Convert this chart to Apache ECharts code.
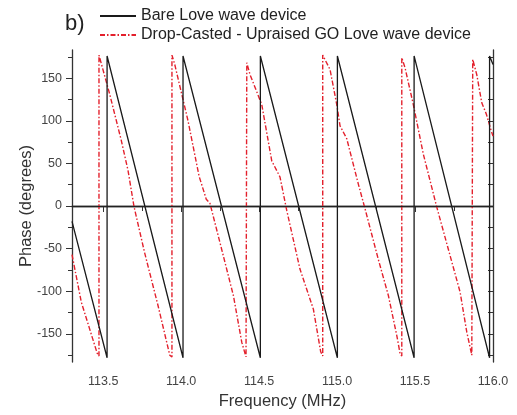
<!DOCTYPE html>
<html>
<head>
<meta charset="utf-8">
<script src="https://cdn.jsdelivr.net/npm/echarts@6/dist/echarts.min.js"></script>
<style>
html,body{margin:0;padding:0;background:#fff;}
#c{width:517px;height:415px;}
</style>
</head>
<body>
<div id="c"></div>
<script>
// Bare Love wave device (black)
const bareFreq  = [113.3, 113.525, 113.525, 114.012, 114.012, 114.508, 114.508, 115.002, 115.002, 115.494, 115.494, 115.978, 115.978, 116.0];
const barePhase = [-18, -178, 176, -178, 176, -178, 176, -178, 176, -178, 176, -178, 176, 166];

// Drop-Casted - Upraised GO Love wave device (red)
const castFreq = [
  113.3, 113.36, 113.462, 113.473,
  113.473, 113.542, 113.616, 113.659, 113.698, 113.766, 113.852, 113.927, 113.941,
  113.941, 113.959, 114.044, 114.115, 114.161, 114.185, 114.249, 114.335, 114.389, 114.416, 114.421,
  114.421, 114.442, 114.517, 114.581, 114.634, 114.677, 114.762, 114.848, 114.895, 114.908,
  114.908, 114.955, 114.998, 115.019, 115.062, 115.136, 115.179, 115.265, 115.329, 115.383, 115.404, 115.415,
  115.415, 115.436, 115.489, 115.553, 115.639, 115.714, 115.789, 115.832, 115.864, 115.870,
  115.870, 115.896, 115.928, 115.957, 115.989, 116.0
];
const castPhase = [
  -57, -113, -173, -176,
  177, 131, 77, 42, -1, -55, -117, -175, -177,
  177, 166, 100, 35, 8, 3, -43, -105, -160, -177, -177,
  168, 154, 119, 53, 34, -5, -74, -121, -171, -176,
  177, 160, 119, 94, 79, 26, -3, -63, -105, -152, -173, -176,
  174, 162, 119, 61, -1, -51, -101, -148, -175, -176,
  172, 154, 121, 108, 88, 82
];

const xLabelValues = [113.5, 114.0, 114.5, 115.0, 115.5, 116.0];
const xMinorValues = [113.75, 114.25, 114.75, 115.25, 115.75];
const yLabelValues = [-150, -100, -50, 0, 50, 100, 150];
const yMinorValues = [-175, -125, -75, -25, 25, 75, 125, 175];

const seriesNames = ['Bare Love wave device', 'Drop-Casted - Upraised GO Love wave device'];

const zip = (a, b) => a.map((v, i) => [v, b[i]]);

const X_MIN = 113.3, X_MAX = 116.0, Y_MIN = -183, Y_MAX = 183;
const axisColor = '#333';
const font = 'Liberation Sans, Arial, sans-serif';

function xAx(pos, ticks, len, inside, withLine, extra) {
  return Object.assign({
    type: 'value', min: X_MIN, max: X_MAX, position: pos,
    axisLine: {show: withLine, lineStyle: {color: axisColor, width: 1.3}},
    axisTick: {show: true, inside: inside, length: len, customValues: ticks, lineStyle: {color: axisColor, width: 1}},
    axisLabel: {show: false},
    splitLine: {show: false}
  }, extra || {});
}
function yAx(pos, ticks, len, inside, withLine, extra) {
  return Object.assign({
    type: 'value', min: Y_MIN, max: Y_MAX, position: pos,
    axisLine: {show: withLine, lineStyle: {color: axisColor, width: 1.3}},
    axisTick: {show: true, inside: inside, length: len, customValues: ticks, lineStyle: {color: axisColor, width: 1}},
    axisLabel: {show: false},
    splitLine: {show: false}
  }, extra || {});
}

const chart = echarts.init(document.getElementById('c'), null, {renderer: 'canvas'});
chart.setOption({
  backgroundColor: '#fff',
  animation: false,
  title: {
    text: 'b)', left: 60, top: 8,
    textStyle: {fontSize: 22, fontWeight: 'normal', color: '#222', fontFamily: font}
  },
  legend: {
    orient: 'vertical', left: 99, top: 8, padding: 0,
    itemWidth: 36, itemHeight: 12, itemGap: 3,
    itemStyle: {color: 'rgba(0,0,0,0)', borderColor: 'rgba(0,0,0,0)', borderWidth: 0},
    textStyle: {fontSize: 16, color: '#222', fontFamily: font},
    data: seriesNames
  },
  grid: {left: 72, right: 24, top: 50, bottom: 50},
  xAxis: [
    xAx('bottom', xLabelValues, 6, false, true, {
      name: 'Frequency (MHz)', nameLocation: 'middle', nameGap: 31, nameMoveOverlap: false,
      nameTextStyle: {fontSize: 16.5, color: '#333', fontFamily: font},
      axisLabel: {show: true, customValues: xLabelValues, margin: 13, fontSize: 12.5, color: '#444', fontFamily: font,
        formatter: v => Number(v).toFixed(1)}
    }),
    xAx('bottom', xMinorValues, 3, false, false),
    xAx('top', xLabelValues.concat(xMinorValues), 5, true, true)
  ],
  yAxis: [
    yAx('left', yLabelValues, 6, false, true, {
      name: 'Phase (degrees)', nameLocation: 'middle', nameGap: 37, nameRotate: 90, nameMoveOverlap: false,
      nameTextStyle: {fontSize: 16.5, color: '#333', fontFamily: font},
      axisLabel: {show: true, customValues: yLabelValues, margin: 10, fontSize: 12.5, color: '#444', fontFamily: font}
    }),
    yAx('left', yMinorValues, 4, false, false),
    yAx('right', yLabelValues.concat(yMinorValues), 5, true, true)
  ],
  series: [{
    name: seriesNames[0], type: 'line', xAxisIndex: 0, yAxisIndex: 0,
    data: zip(bareFreq, barePhase),
    symbol: 'none', showSymbol: false,
    lineStyle: {color: '#1a1a1a', width: 1.3},
    itemStyle: {color: '#1a1a1a'},
    markLine: {
      silent: true, symbol: 'none', label: {show: false},
      lineStyle: {color: '#222', width: 1, type: 'solid'},
      data: [{yAxis: 0}]
    },
    z: 3
  }, {
    name: seriesNames[1], type: 'line', xAxisIndex: 0, yAxisIndex: 0,
    data: zip(castFreq, castPhase),
    symbol: 'none', showSymbol: false,
    lineStyle: {color: '#e3202c', width: 1.4, type: [5, 2, 1.5, 2]},
    itemStyle: {color: '#e3202c'},
    z: 2
  }]
});
</script>
</body>
</html>
